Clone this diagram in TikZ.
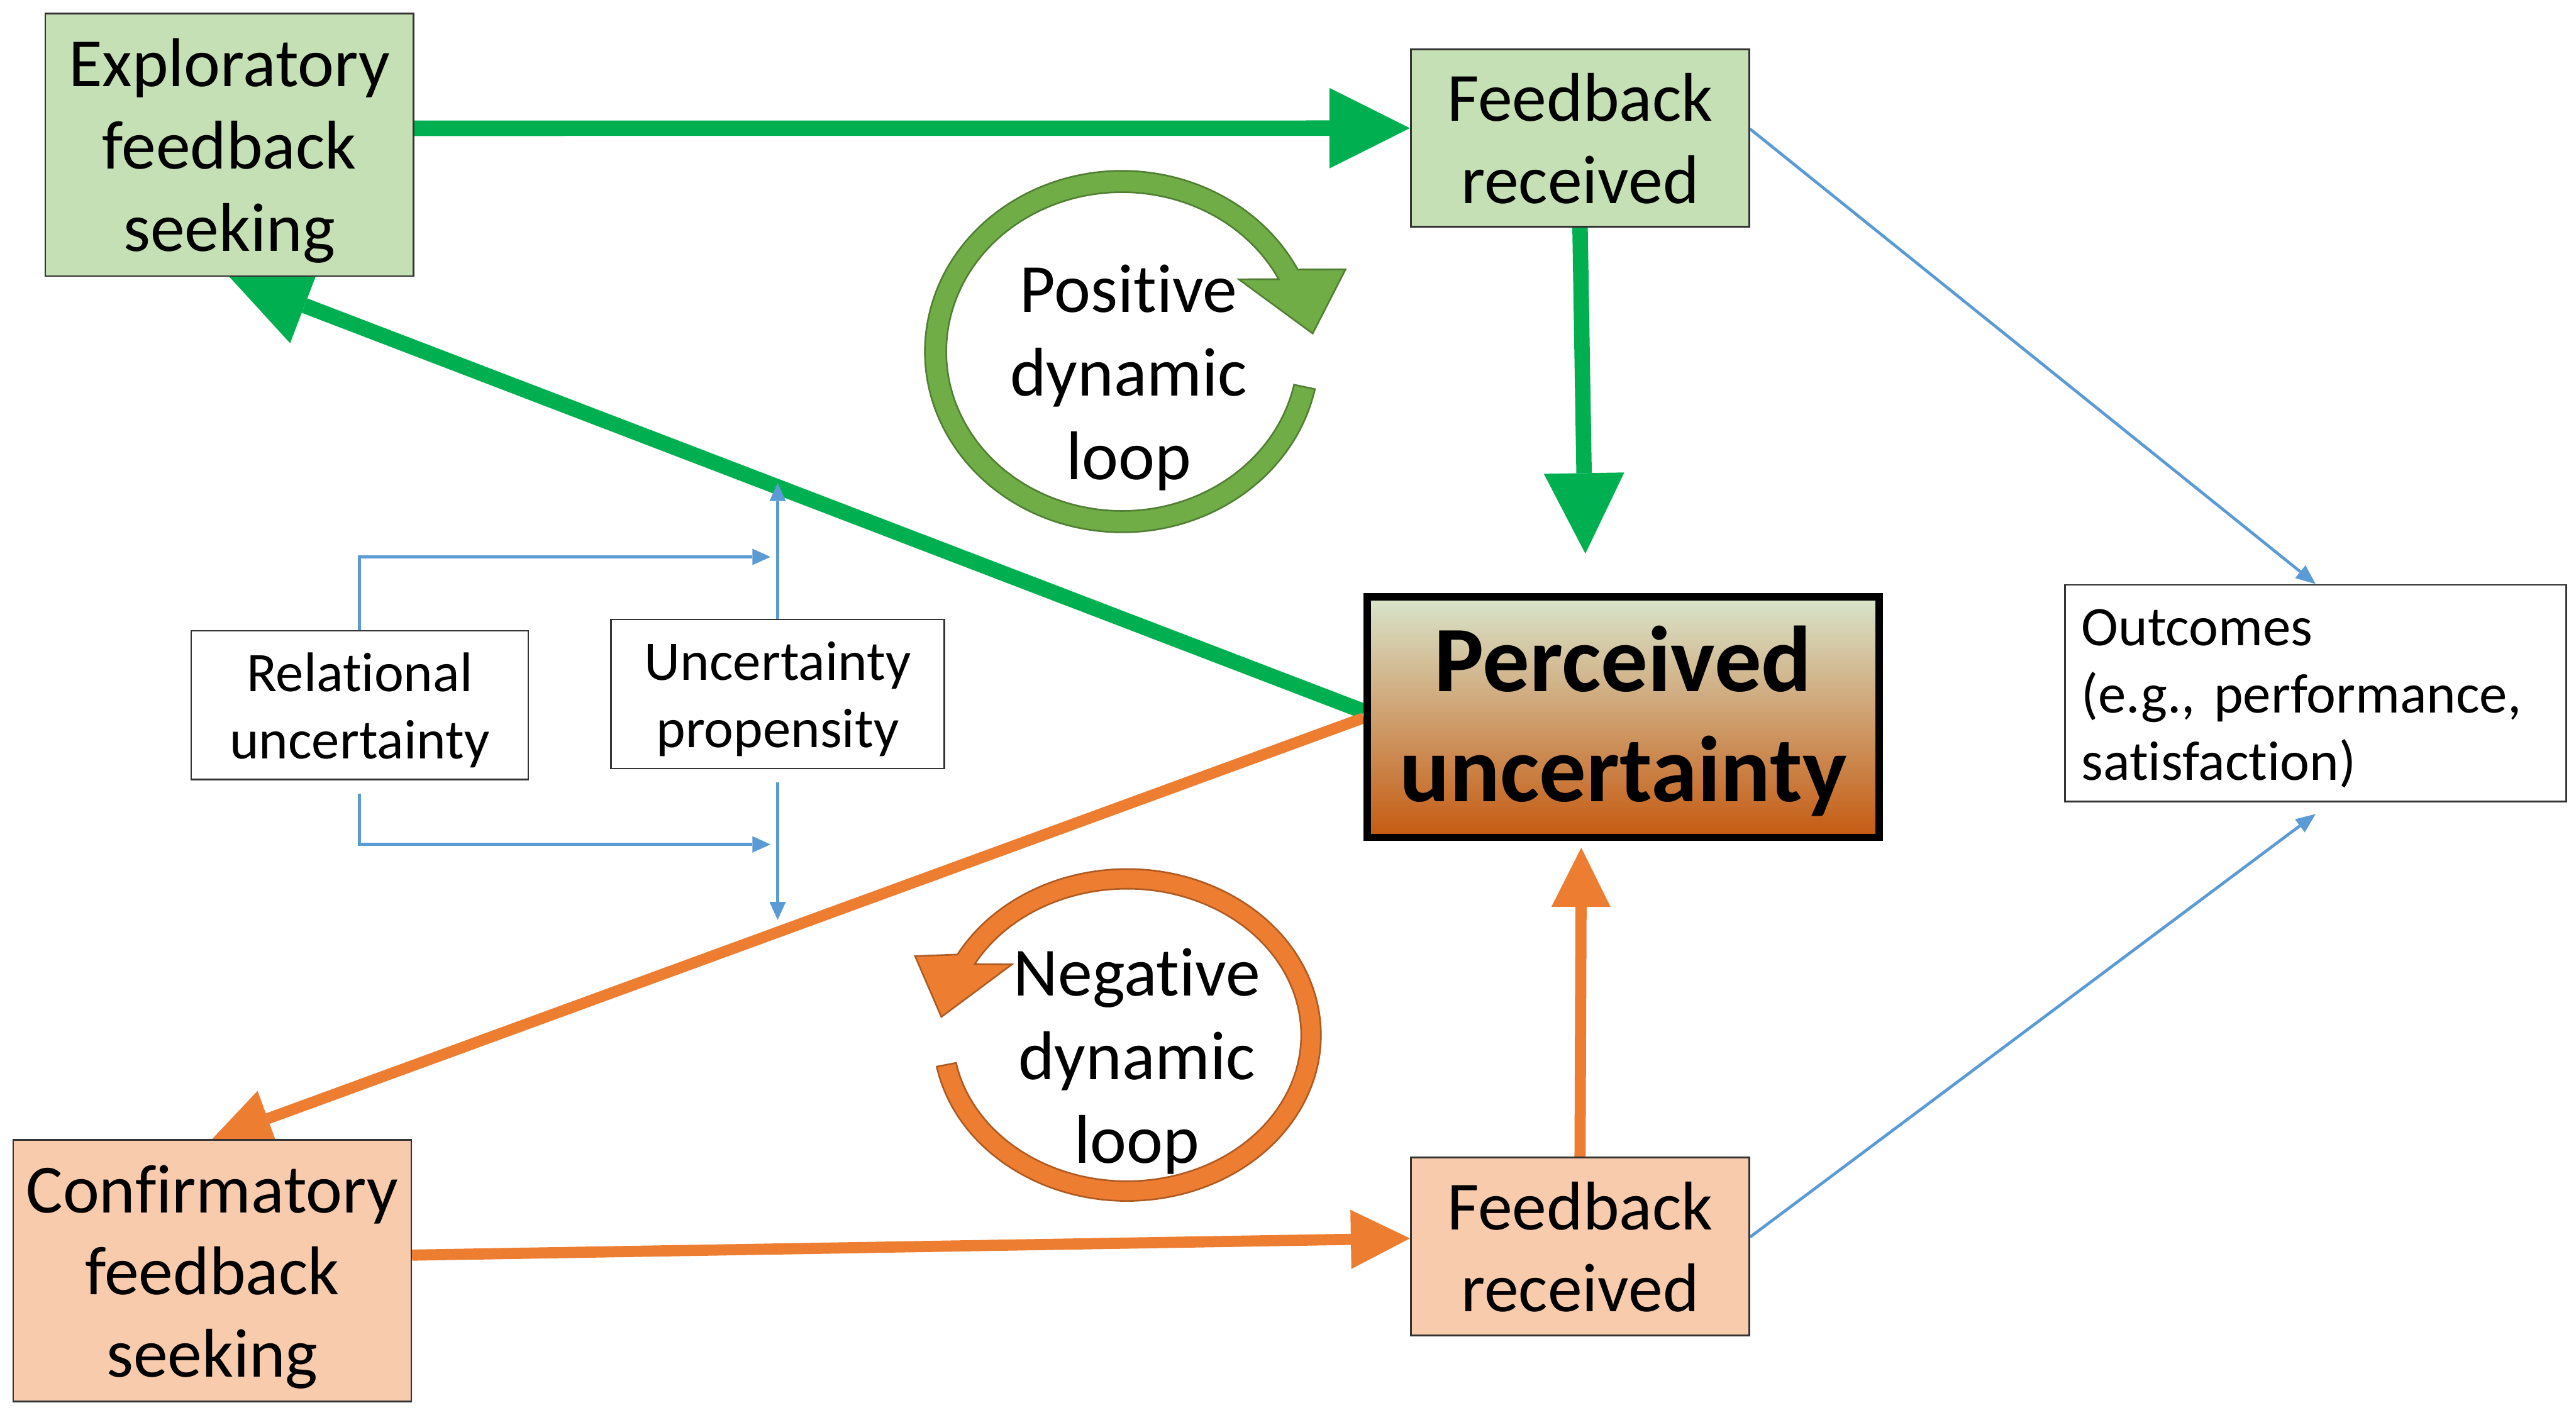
\documentclass[tikz,border=0pt]{standalone}
\usepackage{fontspec}
\setmainfont{Carlito}[Ligatures=NoCommon]
\frenchspacing
\usetikzlibrary{arrows.meta,calc}
\definecolor{boxgreen}{HTML}{C5E0B4}
\definecolor{boxorange}{HTML}{F8CBAD}
\definecolor{arrgreen}{HTML}{00B050}
\definecolor{arrorange}{HTML}{ED7D31}
\definecolor{linkblue}{HTML}{5B9BD5}
\definecolor{loopgreen}{HTML}{70AD47}
\definecolor{loopgreenedge}{HTML}{507E32}
\definecolor{looporange}{HTML}{ED7D31}
\definecolor{looporangeedge}{HTML}{AE5A21}
\definecolor{pvtop}{RGB}{216,229,204}
\definecolor{pvmid}{RGB}{194,180,124}
\definecolor{pvbot}{RGB}{197,90,17}
\pgfdeclarelayer{bg}
\pgfsetlayers{bg,main}

\begin{document}
\begin{tikzpicture}[x=1pt,y=-1pt,
  box/.style={draw=black!80, line width=1pt, inner sep=0pt, align=center},
  % text boxes get a fixed height measured from the last baseline,
  % so the lines sit on the box centre by line metrics, not by glyphs
  bigtext/.style={font=\fontsize{42}{50}\selectfont, text depth=0pt},
  threelines/.style={text height=129.4pt},
  twolines/.style={text height=79.4pt},
  smalltext/.style={font=\fontsize{34}{41}\selectfont, text depth=0pt, text height=65pt},
  headtext/.style={font=\fontsize{57}{67}\selectfont\bfseries, text depth=0pt, text height=103pt},
  listtext/.style={font=\fontsize{34}{41}\selectfont,
    execute at begin node={\rule{0pt}{32.3pt}},
    execute at end node={\rule[-8.2pt]{0pt}{8.2pt}}},
  looptext/.style={font=\fontsize{42}{51}\selectfont, align=center, inner sep=0pt},
  greenarrow/.style={draw=arrgreen, line width=9.4pt,
    -{Triangle[length=49pt,width=49pt,line width=0pt,fill=arrgreen]}},
  orangearrow/.style={draw=arrorange, line width=6.8pt,
    -{Triangle[length=36pt,width=36pt,line width=0pt,fill=arrorange]}},
  bluearrow/.style={draw=linkblue, line width=2pt,
    -{Triangle[length=11pt,width=10pt,line width=0pt,fill=linkblue]}},
  thinarrow/.style={draw=linkblue, line width=1.8pt,
    -{Triangle[length=12pt,width=10pt,line width=0pt,fill=linkblue]}},
  loopring/.style={line width=1pt, line join=miter},
]
\useasboundingbox (0,0) rectangle (1568,861);

% boxes
\node[box, fill=boxgreen, bigtext, threelines, minimum width=224pt, minimum height=159.8pt]
  (expl) at (139.6,88.1) {Exploratory\\feedback\\seeking};
\node[box, fill=boxgreen, bigtext, twolines, minimum width=206pt, minimum height=108pt]
  (fbtop) at (961.75,84) {Feedback\\received};
\node[box, fill=boxorange, bigtext, threelines, minimum width=242.3pt, minimum height=159.2pt]
  (conf) at (129.15,773.4) {Confirmatory\\feedback\\seeking};
\node[box, fill=boxorange, bigtext, twolines, minimum width=206pt, minimum height=108.4pt]
  (fbbot) at (961.75,758.8) {Feedback\\received};
\node[draw=black, line width=4.5pt, inner sep=0pt, align=center,
  top color=pvtop, middle color=pvmid, bottom color=pvbot,
  minimum width=311.5pt, minimum height=146.5pt, headtext]
  (pu) at (988,436.5) {Perceived\\uncertainty};
\node[box, fill=white, smalltext, minimum width=205.2pt, minimum height=90.6pt]
  (rel) at (218.9,429.3) {Relational\\uncertainty};
\node[box, fill=white, smalltext, minimum width=202.7pt, minimum height=90.8pt]
  (prop) at (473.35,422.4) {Uncertainty\\propensity};
\node[box, fill=white, listtext, align=left, text width=285pt, inner xsep=10pt,
  minimum width=305pt, minimum height=132pt]
  (outc) at (1409.5,422) {Outcomes\\(e.g., performance,\\satisfaction)};

% loop arrows with their labels
\filldraw[loopring, fill=loopgreen, draw=loopgreenedge]
  ($(683,214)+(12:120 and 110)$)
  arc[start angle=12, end angle=333, x radius=120, y radius=110]
  -- (819,164) -- (799,203) -- (754,170)
  -- ($(683,214)+(333:107 and 97)$)
  arc[start angle=333, end angle=12, x radius=107, y radius=97] -- cycle;
\node[looptext] (postext) at (687,230) {Positive\\dynamic\\loop};

\filldraw[loopring, fill=looporange, draw=looporangeedge]
  ($(686,630)+(169:118 and 101)$)
  arc[start angle=169, end angle=-151, x radius=118, y radius=101]
  -- (557,582) -- (573,619) -- (616,587)
  -- ($(686,630)+(-151:106 and 89)$)
  arc[start angle=-151, end angle=169, x radius=106, y radius=89] -- cycle;
\node[looptext] (negtext) at (692,646) {Negative\\dynamic\\loop};

% free ends of the moderating arrows
\coordinate (upmod) at (473.35,294);
\coordinate (upjoin) at (469,339);
\coordinate (lowjoin) at (469,514);
\coordinate (lowmod) at (473.35,560);

\begin{pgfonlayer}{bg}
  % positive path
  \draw[greenarrow] ([yshift=10pt]expl.east) -- ([yshift=6pt]fbtop.west);
  \draw[greenarrow] (fbtop.south) -- ([xshift=-23pt,yshift=24pt]pu.north);
  \draw[greenarrow] ([yshift=3.5pt]pu.west) -- (expl.south);
  % negative path
  \draw[orangearrow] ([yshift=-0.5pt]pu.west) -- (conf.north);
  \draw[orangearrow] ([yshift=9.4pt]conf.east) -- ([yshift=5pt]fbbot.west);
  \draw[orangearrow] (fbbot.north) -- ([xshift=-25.5pt,yshift=-4pt]pu.south);
  % moderators
  \draw[bluearrow] (prop.north) -- (upmod);
  \draw[bluearrow] (rel.north) |- (upjoin);
  \draw[bluearrow] ([yshift=-8pt]rel.south) |- (lowjoin);
  \draw[bluearrow] ([yshift=-8pt]prop.south) -- (lowmod);
  % outcomes
  \draw[thinarrow] ([yshift=5.5pt]fbtop.east) -- (outc.north);
  \draw[thinarrow] ([yshift=5.8pt]fbbot.east) -- ([yshift=-7pt]outc.south);
\end{pgfonlayer}
\end{tikzpicture}
\end{document}
